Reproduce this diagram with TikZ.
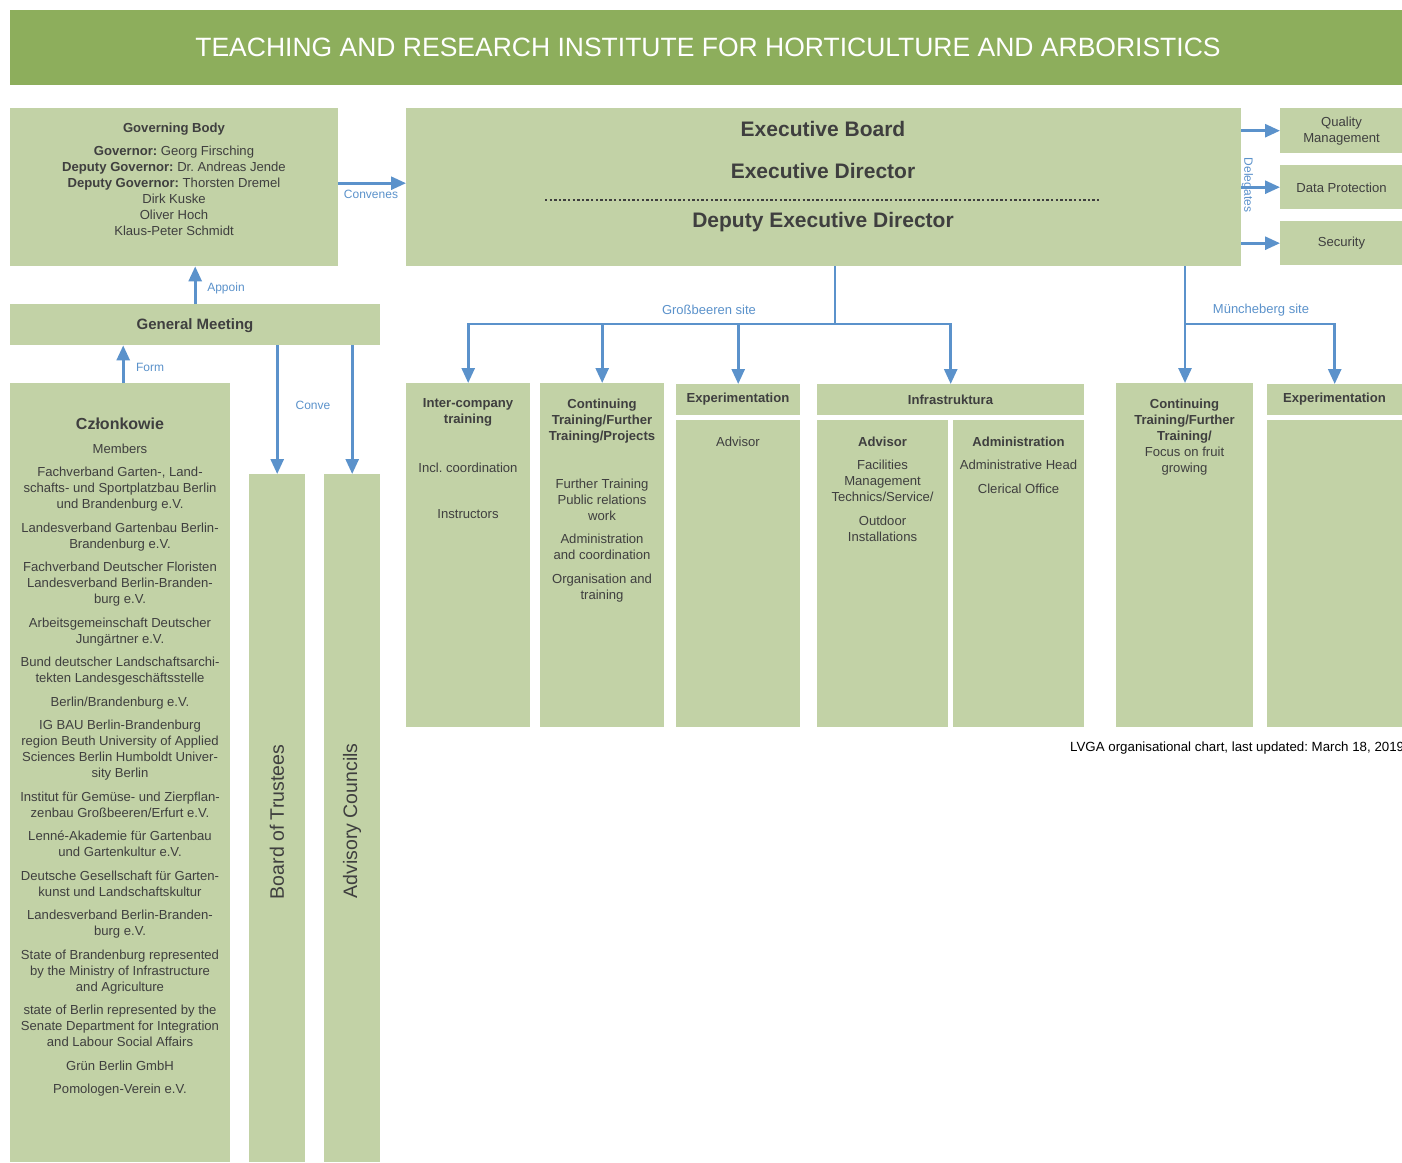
\documentclass[tikz,border=0pt]{standalone}
\usepackage{fontspec}
\setmainfont{Liberation Sans}
\usetikzlibrary{arrows.meta,calc}
\definecolor{hdr}{HTML}{8DAE5C}
\definecolor{bx}{HTML}{C2D2A6}
\definecolor{blu}{HTML}{5B92CB}
\definecolor{txt}{HTML}{3F3F3F}
\frenchspacing
\begin{document}
\frenchspacing
\begin{tikzpicture}[x=1pt,y=-1pt,
  box/.style={fill=bx,draw=none,inner sep=0,anchor=north west},
  line/.style={draw=blu,line width=2.7pt},
  conn/.style={draw=blu,line width=2.7pt,-{Triangle[width=13pt,length=15pt]}},
  tx/.style={text=txt,inner sep=0,align=center,font=\fontsize{13.1}{16}\selectfont},
  tb/.style={text=txt,inner sep=0,align=center,font=\fontsize{13.1}{16}\selectfont\bfseries},
  lbl/.style={text=blu,inner sep=0,font=\fontsize{12}{14}\selectfont},
  sitelbl/.style={text=blu,inner sep=0,font=\fontsize{13}{15}\selectfont}]
\useasboundingbox[fill=white] (0,0) rectangle (1402,1162);
% boxes
\node[box,fill=hdr,minimum width=1392pt,minimum height=75pt] (hd) at (10,10) {};
\node[box,minimum width=328pt,minimum height=158pt] (gov) at (10,108) {};
\node[box,minimum width=835pt,minimum height=158pt] (eb) at (406,108) {};
\node[box,minimum width=122pt,minimum height=45pt] (qm) at (1280,108) {};
\node[box,minimum width=122pt,minimum height=44pt] (dp) at (1280,165) {};
\node[box,minimum width=122pt,minimum height=44pt] (sec) at (1280,221) {};
\node[box,minimum width=370pt,minimum height=41pt] (gm) at (10,304) {};
\node[box,minimum width=220pt,minimum height=779pt] (mem) at (10,383) {};
\node[box,minimum width=56pt,minimum height=688pt] (bot) at (249,474) {};
\node[box,minimum width=56pt,minimum height=688pt] (adv) at (324,474) {};
\node[box,minimum width=124pt,minimum height=344pt] (ic) at (406,383) {};
\node[box,minimum width=124pt,minimum height=344pt] (ct) at (540,383) {};
\node[box,minimum width=124pt,minimum height=31pt] (exh) at (676,384) {};
\node[box,minimum width=124pt,minimum height=307pt] (exb) at (676,420) {};
\node[box,minimum width=267pt,minimum height=31pt] (infh) at (817,384) {};
\node[box,minimum width=131pt,minimum height=307pt] (infa) at (817,420) {};
\node[box,minimum width=131pt,minimum height=307pt] (infb) at (953,420) {};
\node[box,minimum width=137pt,minimum height=344pt] (ctm) at (1116,383) {};
\node[box,minimum width=135pt,minimum height=31pt] (exmh) at (1267,384) {};
\node[box,minimum width=135pt,minimum height=307pt] (exmb) at (1267,420) {};
% header
\node[text=white,inner sep=0,font=\fontsize{26.5}{30}\selectfont] (title) at (708,47.5) {TEACHING AND RESEARCH INSTITUTE FOR HORTICULTURE AND ARBORISTICS};
% governing body
\node[tx,anchor=north] (govt) at (174,122.5) {\textbf{Governing Body}\\[7pt]
\textbf{Governor:} Georg Firsching\\
\textbf{Deputy Governor:} Dr. Andreas Jende\\
\textbf{Deputy Governor:} Thorsten Dremel\\
Dirk Kuske\\ Oliver Hoch\\ Klaus-Peter Schmidt};
% executive board
\node[text=txt,inner sep=0,font=\fontsize{21}{24}\selectfont\bfseries] (ebt1) at (823,129) {Executive Board};
\node[text=txt,inner sep=0,font=\fontsize{21}{24}\selectfont\bfseries] (ebt2) at (823,171) {Executive Director};
\node[text=txt,inner sep=0,font=\fontsize{21}{24}\selectfont\bfseries] (ebt3) at (823,222) {Deputy Executive Director};
\coordinate (dl1) at (545,200);
\coordinate (dl2) at (1101,200);
\draw[txt,line width=2.4pt,dash pattern=on 2.3pt off 2.3pt] (dl1) -- (dl2);
% right boxes
\node[tx] (qmt) at (1341.5,131) {Quality\\Management};
\node[tx] (dpt) at (1341.5,187.5) {Data Protection};
\node[tx] (sect) at (1341.5,243.5) {Security};
% general meeting
\node[text=txt,inner sep=0,font=\fontsize{15}{18}\selectfont\bfseries] (gmt) at (195,325.5) {General Meeting};
% members
\node[text=txt,inner sep=0,font=\fontsize{16}{19}\selectfont\bfseries] (memh) at (120,423.5) {Członkowie};
\node[tx,anchor=north] (memt) at (120,443.5) {Members\\[7.5pt]
Fachverband Garten-, Land-\\schafts- und Sportplatzbau Berlin\\und Brandenburg e.V.\\[7.5pt]
Landesverband Gartenbau Berlin-\\Brandenburg e.V.\\[7.5pt]
Fachverband Deutscher Floristen\\Landesverband Berlin-Branden-\\burg e.V.\\[7.5pt]
Arbeitsgemeinschaft Deutscher\\Jungärtner e.V.\\[7.5pt]
Bund deutscher Landschaftsarchi-\\tekten Landesgeschäftsstelle\\[7.5pt]
Berlin/Brandenburg e.V.\\[7.5pt]
IG BAU Berlin-Brandenburg\\region Beuth University of Applied\\Sciences Berlin Humboldt Univer-\\sity Berlin\\[7.5pt]
Institut für Gemüse- und Zierpflan-\\zenbau Großbeeren/Erfurt e.V.\\[7.5pt]
Lenné-Akademie für Gartenbau\\und Gartenkultur e.V.\\[7.5pt]
Deutsche Gesellschaft für Garten-\\kunst und Landschaftskultur\\[7.5pt]
Landesverband Berlin-Branden-\\burg e.V.\\[7.5pt]
State of Brandenburg represented\\by the Ministry of Infrastructure\\and Agriculture\\[7.5pt]
state of Berlin represented by the\\Senate Department for Integration\\and Labour Social Affairs\\[7.5pt]
Grün Berlin GmbH\\[7.5pt]
Pomologen-Verein e.V.};
% vertical boards
\node[text=txt,inner sep=0,rotate=90,font=\fontsize{19.5}{22}\selectfont] (bott) at (277,822) {Board of Trustees};
\node[text=txt,inner sep=0,rotate=90,font=\fontsize{19.5}{22}\selectfont] (advt) at (352,821) {Advisory Councils};
% lower boxes texts
\node[tb,anchor=north] (ict1) at (468,398.5) {Inter-company\\training};
\node[tx,anchor=north] (ict2) at (468,462.5) {Incl. coordination};
\node[tx,anchor=north] (ict3) at (468,509.5) {Instructors};
\node[tb,anchor=north] (ctt1) at (602,398.5) {Continuing\\Training/Further\\Training/Projects};
\node[tx,anchor=north] (ctt2) at (602,478.5) {Further Training\\Public relations\\work\\[7pt]
Administration\\and coordination\\[8pt]
Organisation and\\training};
\node[tb] (exht) at (738,399.5) {Experimentation};
\node[tx,anchor=north] (exbt) at (738,436.5) {Advisor};
\node[tb] (infht) at (950.5,399.5) {Infrastruktura};
\node[tb,anchor=north] (infat1) at (882.5,436.5) {Advisor};
\node[tx,anchor=north] (infat2) at (882.5,459.5) {Facilities\\Management\\Technics/Service/\\[8pt]Outdoor\\Installations};
\node[tb,anchor=north] (infbt1) at (1018.5,436.5) {Administration};
\node[tx,anchor=north] (infbt2) at (1018.5,459.5) {Administrative Head\\[8pt]Clerical Office};
\node[tx,anchor=north] (ctmt) at (1184.5,398.5) {\textbf{Continuing}\\\textbf{Training/Further}\\\textbf{Training/}\\Focus on fruit\\growing};
\node[tb] (exmht) at (1334.5,399.5) {Experimentation};
% footer
\node[text=black,inner sep=0,anchor=west,font=\fontsize{13.3}{15}\selectfont] (foot) at (1070,748.5) {LVGA organisational chart, last updated: March 18, 2019};
% connectors
\draw[conn] ($(gov.east)+(0,-4)$) -- ($(eb.west)+(0,-4)$);
\node[lbl] (l1) at (371,194) {Convenes};
\draw[conn] (gm.north) -- (gm.north |- gov.south);
\node[lbl] (l2) at (226,288) {Appoin};
\draw[conn] ($(mem.north)+(3,0)$) -- ($(mem.north |- gm.south)+(3,0)$);
\node[lbl] (l3) at (150,367) {Form};
\draw[conn] (bot.north |- gm.south) -- (bot.north);
\draw[conn] (adv.north |- gm.south) -- (adv.north);
\node[lbl] (l4) at (313,405) {Conve};
\draw[conn] (eb.east |- qm.west) -- (qm.west);
\draw[conn] (eb.east |- dp.west) -- (dp.west);
\draw[conn] (eb.east |- sec.west) -- (sec.west);
\node[lbl,rotate=-90] (l5) at (1247.5,185) {Delegates};
\coordinate (j1) at (835,324);
\coordinate (j2) at (1185,324);
\draw[line] (eb.south -| j1) -- (j1);
\draw[conn] (j1) -| (ic.north);
\draw[conn] (j1) -| (ct.north);
\draw[conn] (j1) -| (exh.north);
\draw[conn] (j1) -| (infh.north);
\node[sitelbl] (l6) at (709,310) {Großbeeren site};
\draw[line] (eb.south -| j2) -- (j2);
\draw[conn] (j2) -- (j2 |- ctm.north);
\draw[conn] (j2) -| (exmh.north);
\node[sitelbl] (l7) at (1261,310) {Müncheberg site};
\end{tikzpicture}
\end{document}
